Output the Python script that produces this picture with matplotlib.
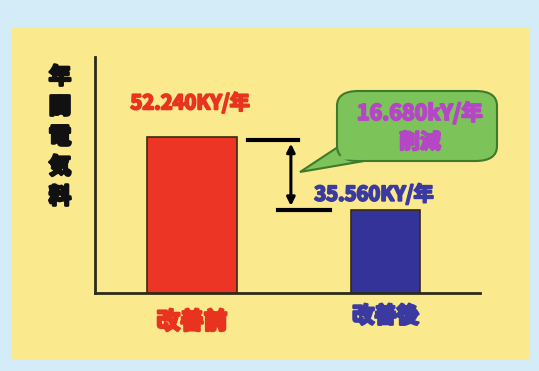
import matplotlib.pyplot as plt
import matplotlib.patheffects as pe
from matplotlib.patches import FancyBboxPatch, Polygon, Rectangle

plt.rcParams['font.family'] = ['Noto Sans CJK JP', 'DejaVu Sans']

# data
categories = ["改善前", "改善後"]
costs = [52.240, 35.560]          # k¥ / 年
cost_labels = ["52.240KY/年", "35.560KY/年"]
saving_label = "16.680kY/年"
saving_note = "削減"
ylabel_chars = "年間電気料"

bar_colors = ["#ec3524", "#34339a"]
widths = [0.465, 0.357]

W, H = 539, 371
fig = plt.figure(figsize=(W / 100, H / 100), dpi=100, facecolor='#d3ecf7')

def px(x, y):
    # pixel position (from top-left) to figure fraction
    return x / W, (H - y) / H

def heavy(color, w=1.4):
    # fake a heavy weight with a stroke of the same colour
    return [pe.withStroke(linewidth=w, foreground=color)]

# yellow panel
x0, y0 = px(12, 360)
fig.patches.append(Rectangle((x0, y0), 518 / W, 332 / H, transform=fig.transFigure,
                             facecolor='#fbe98e', edgecolor='none', zorder=-1))

l, b = px(95, 293)
ax = fig.add_axes([l, b, 385 / W, 236 / H])
ax.set_zorder(1)
ax.set_facecolor('none')

xs = range(len(costs))
ax.bar(xs, costs, width=widths, color=bar_colors, edgecolor='#3a2a10', linewidth=1.2, zorder=2)
ax.set_xlim(-0.501, 1.488)
ax.set_ylim(16.6, 70.5)

for s in ['top', 'right']:
    ax.spines[s].set_visible(False)
for s in ['left', 'bottom']:
    ax.spines[s].set_color('#2b2b1a')
    ax.spines[s].set_linewidth(2)
ax.set_xticks([])
ax.set_yticks([])

# value labels
ax.text(-0.01, costs[0] + 7.8, cost_labels[0], ha='center', va='center', fontsize=14.5,
        fontweight='bold', color='#e8331f', path_effects=heavy('#e8331f'))
ax.text(0.94, costs[1] + 3.6, cost_labels[1], ha='center', va='center', fontsize=14.5,
        fontweight='bold', color='#3a3aa0', path_effects=heavy('#3a3aa0'))

# category labels
ax.text(0, 16.6 - 6.6, categories[0], ha='center', va='center', fontsize=17,
        fontweight='bold', color='#e8331f', clip_on=False, path_effects=heavy('#e8331f', 1.8))
ax.text(1, 16.6 - 5.3, categories[1], ha='center', va='center', fontsize=16,
        fontweight='bold', color='#3a3aa0', clip_on=False, path_effects=heavy('#3a3aa0', 1.8))

# difference bracket
ax.plot([0.289, 0.548], [costs[0] - 0.6, costs[0] - 0.6], color='black', lw=3, zorder=3)
ax.plot([0.444, 0.713], [costs[1], costs[1]], color='black', lw=3, zorder=3)
ax.annotate('', xy=(0.511, costs[1] + 0.3), xytext=(0.511, costs[0] - 0.9),
            arrowprops=dict(arrowstyle='<|-|>', color='black', lw=2.2, mutation_scale=12))

# y label, stacked characters
for i, ch in enumerate(ylabel_chars):
    fx, fy = px(60, 77 + i * 30)
    fig.text(fx, fy, ch, ha='center', va='center', fontsize=16, fontweight='bold',
             color='#111111', path_effects=heavy('#111111', 2))

# callout bubble
green, dgreen = '#7cc35a', '#3f7a2c'
tail = Polygon([px(344, 143), px(300, 172), px(370, 160)], closed=True, transform=fig.transFigure,
               facecolor=green, edgecolor=dgreen, linewidth=1.5, zorder=5)
fig.patches.append(tail)
bx, by = px(337, 161)
box = FancyBboxPatch((bx, by), 160 / W, 70 / H, boxstyle='round,pad=0,rounding_size=0.04',
                     transform=fig.transFigure, facecolor=green, edgecolor=dgreen,
                     linewidth=1.5, zorder=6)
fig.patches.append(box)
cover = Polygon([px(345, 146), px(339, 159.6), px(367, 159.6)], closed=True, transform=fig.transFigure,
                facecolor=green, edgecolor='none', zorder=7)
fig.patches.append(cover)

tx, ty = px(420, 113)
fig.text(tx, ty, saving_label, ha='center', va='center', fontsize=15.5, fontweight='bold',
         color='#b546c6', zorder=8, path_effects=heavy('#b546c6'))
tx, ty = px(420, 142)
fig.text(tx, ty, saving_note, ha='center', va='center', fontsize=15, fontweight='bold',
         color='#b546c6', zorder=8, path_effects=heavy('#b546c6'))

fig.savefig('out.png', dpi=100, facecolor=fig.get_facecolor())
